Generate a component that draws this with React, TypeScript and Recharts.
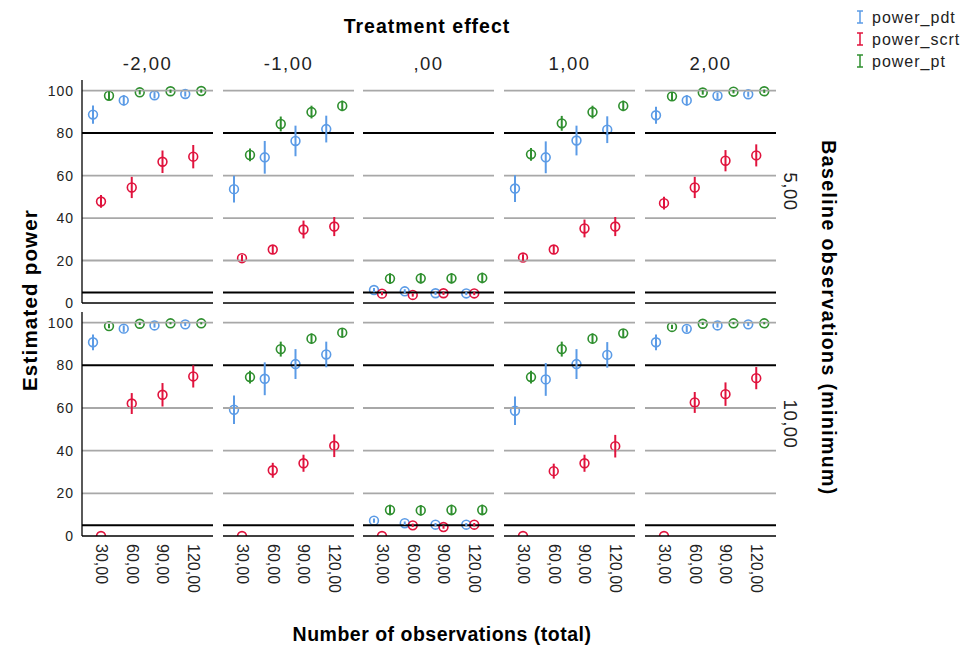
import React from "react";
import { BarChart, Bar, XAxis, YAxis, ReferenceLine, ErrorBar } from "recharts";

const FONT = '"Liberation Sans", Arial, Helvetica, sans-serif';
const BLUE = "#5b9be6";
const RED = "#e0133d";
const GREEN = "#2f8f2f";

// ---- categories & labels ----
const nObs = [30, 60, 90, 120];
const xTickLabels = ["30,00", "60,00", "90,00", "120,00"];
const yTicks = [0, 20, 40, 60, 80, 100];
const gridValues = [20, 40, 60, 100];
const criterionValues = [80, 5];
const treatmentEffects = ["-2,00", "-1,00", ",00", "1,00", "2,00"];
const baselineObs = ["5,00", "10,00"];
const seriesNames = ["power_pdt", "power_scrt", "power_pt"];

// ---- baseline 5 (one inner array per treatment effect, values for n = 30, 60, 90, 120) ----
const pdtBase5 = [
  [88.7, 95.4, 97.8, 98.4],
  [53.6, 68.6, 76.3, 81.9],
  [6.1, 5.5, 4.6, 4.5],
  [53.9, 68.6, 76.5, 81.6],
  [88.4, 95.4, 97.6, 98.3],
];
const pdtErrBase5 = [
  [4.3, 2.5, 1.5, 1.2],
  [6.3, 7.7, 7.2, 6.3],
  [1.0, 1.0, 0.8, 0.8],
  [6.3, 7.5, 7.0, 6.3],
  [4.0, 2.5, 1.5, 1.2],
];
const scrtBase5 = [
  [47.8, 54.4, 66.5, 68.9],
  [21.1, 25.2, 34.6, 36.0],
  [4.4, 3.8, 4.6, 4.5],
  [21.4, 25.2, 35.1, 36.0],
  [47.0, 54.4, 67.0, 69.5],
];
const scrtErrBase5 = [
  [3.0, 5.0, 5.3, 5.5],
  [1.5, 2.0, 4.2, 4.5],
  [0.8, 0.8, 0.8, 0.8],
  [1.5, 2.0, 4.2, 4.5],
  [3.0, 5.0, 5.0, 5.2],
];
const ptBase5 = [
  [97.6, 99.2, 99.7, 99.8],
  [69.7, 84.3, 89.9, 92.8],
  [11.5, 11.6, 11.6, 11.8],
  [70.0, 84.6, 89.9, 92.8],
  [97.3, 99.1, 99.5, 99.7],
];
const ptErrBase5 = [
  [2.0, 1.0, 0.8, 0.8],
  [3.0, 3.5, 3.0, 2.5],
  [2.5, 2.5, 2.5, 2.5],
  [3.0, 3.5, 3.0, 2.5],
  [2.0, 1.0, 0.8, 0.8],
];

// ---- baseline 10 ----
const pdtBase10 = [
  [90.8, 97.2, 98.7, 99.2],
  [59.2, 73.7, 80.6, 85.1],
  [7.2, 6.0, 5.3, 5.3],
  [58.7, 73.4, 80.6, 84.9],
  [90.8, 97.1, 98.7, 99.2],
];
const pdtErrBase10 = [
  [3.7, 1.5, 1.0, 0.8],
  [6.7, 7.7, 7.0, 6.0],
  [1.0, 0.8, 0.8, 0.8],
  [6.7, 7.7, 7.0, 6.0],
  [3.7, 1.5, 1.0, 0.8],
];
const scrtBase10 = [
  [0, 62.1, 66.2, 74.8],
  [0, 30.8, 34.1, 42.3],
  [0, 5.0, 4.2, 5.3],
  [0, 30.4, 34.1, 42.1],
  [0, 62.6, 66.5, 74.0],
];
const scrtErrBase10 = [
  [0, 4.9, 5.5, 5.2],
  [0, 3.5, 4.0, 5.3],
  [0, 0.8, 0.8, 0.8],
  [0, 3.5, 4.0, 5.3],
  [0, 4.9, 5.5, 5.2],
];
const ptBase10 = [
  [98.4, 99.5, 99.7, 99.7],
  [74.5, 87.6, 92.5, 95.3],
  [12.2, 12.0, 12.2, 12.2],
  [74.5, 87.6, 92.5, 95.0],
  [98.0, 99.5, 99.7, 99.7],
];
const ptErrBase10 = [
  [1.0, 0.6, 0.5, 0.5],
  [3.0, 3.5, 2.5, 2.0],
  [2.5, 2.5, 2.5, 2.5],
  [3.0, 3.5, 2.5, 2.0],
  [1.0, 0.6, 0.5, 0.5],
];

// ---- layout ----
const PANEL_LEFTS = [82, 223, 363, 504, 645];
const PANEL_W = 131;
const PANEL_TOPS = [80, 312];
const PANEL_H = [223, 224];

function buildData(row: number, col: number) {
  const pdt = row === 0 ? pdtBase5 : pdtBase10;
  const pdtE = row === 0 ? pdtErrBase5 : pdtErrBase10;
  const scrt = row === 0 ? scrtBase5 : scrtBase10;
  const scrtE = row === 0 ? scrtErrBase5 : scrtErrBase10;
  const pt = row === 0 ? ptBase5 : ptBase10;
  const ptE = row === 0 ? ptErrBase5 : ptErrBase10;
  return nObs.map((n, i) => ({
    n,
    pdt: pdt[col][i],
    pdtErr: pdtE[col][i],
    scrt: scrt[col][i],
    scrtErr: scrtE[col][i],
    pt: pt[col][i],
    ptErr: ptE[col][i],
  }));
}

const circleShape = (color: string) => (props: any) => {
  const { x, y, width } = props;
  if (x == null || y == null) return <g />;
  return (
    <circle cx={x + width / 2} cy={y} r={4.4} fill="none" stroke={color} strokeWidth={1.6} />
  );
};

const XTick = (props: any) => {
  const { x, y, payload } = props;
  const label = xTickLabels[nObs.indexOf(payload.value)];
  const y0 = y + 8;
  return (
    <text
      x={x}
      y={y0}
      transform={`rotate(90 ${x} ${y0})`}
      textAnchor="start"
      dominantBaseline="central"
      fontFamily={FONT}
      fontSize={16}
      fill="#222"
    >
      {label}
    </text>
  );
};

const YTick = (props: any) => {
  const { x, y, payload } = props;
  return (
    <text
      x={x}
      y={y}
      textAnchor="end"
      dominantBaseline="central"
      fontFamily={FONT}
      fontSize={14}
      letterSpacing={1}
      fill="#222"
    >
      {payload.value}
    </text>
  );
};

function Panel({ row, col }: { row: number; col: number }) {
  const isLeft = col === 0;
  const isBottom = row === 1;
  const yW = isLeft ? 60 : 0;
  const xH = isBottom ? 70 : 2;
  const mb = isBottom ? 0 : 8;
  const plotH = PANEL_H[row];
  const data = buildData(row, col);
  return (
    <div style={{ position: "absolute", left: PANEL_LEFTS[col] - yW - 1, top: PANEL_TOPS[row] }}>
      <BarChart
        width={PANEL_W + yW + 2}
        height={plotH + xH + mb}
        data={data}
        margin={{ top: 0, right: 1, left: 1, bottom: mb }}
        barSize={8}
        barGap={0}
      >
        <XAxis
          dataKey="n"
          type="category"
          padding={{ left: 4, right: 4 }}
          height={xH}
          tickLine={false}
          tickSize={0}
          tickMargin={0}
          interval={0}
          axisLine={{ stroke: "#000", strokeWidth: 1.3 }}
          tick={isBottom ? <XTick /> : false}
        />
        <YAxis
          width={yW}
          domain={[0, 105]}
          ticks={yTicks}
          interval={0}
          allowDataOverflow
          tickLine={false}
          tickSize={0}
          tickMargin={8}
          axisLine={{ stroke: "#000", strokeWidth: 1.3 }}
          tick={isLeft ? <YTick /> : false}
        />
        {gridValues.map((v) => (
          <ReferenceLine key={`g${v}`} y={v} stroke="#a8a8a8" strokeWidth={1.8} />
        ))}
        {criterionValues.map((v) => (
          <ReferenceLine key={`c${v}`} y={v} stroke="#000" strokeWidth={2} />
        ))}
        <Bar dataKey="pdt" shape={circleShape(BLUE)} isAnimationActive={false}>
          <ErrorBar dataKey="pdtErr" width={0} stroke={BLUE} strokeWidth={2} direction="y" />
        </Bar>
        <Bar dataKey="scrt" shape={circleShape(RED)} isAnimationActive={false}>
          <ErrorBar dataKey="scrtErr" width={0} stroke={RED} strokeWidth={2} direction="y" />
        </Bar>
        <Bar dataKey="pt" shape={circleShape(GREEN)} isAnimationActive={false}>
          <ErrorBar dataKey="ptErr" width={0} stroke={GREEN} strokeWidth={2} direction="y" />
        </Bar>
      </BarChart>
    </div>
  );
}

const seriesColors = [BLUE, RED, GREEN];

export default function App() {
  return (
    <div
      style={{
        position: "absolute",
        left: 0,
        top: 0,
        width: 971,
        height: 646,
        background: "#fff",
        fontFamily: FONT,
        overflow: "hidden",
      }}
    >
      <svg width={971} height={646} style={{ position: "absolute", left: 0, top: 0 }}>
        <text x={427} y={32.5} textAnchor="middle" fontFamily={FONT} fontSize={19.5} fontWeight="bold" letterSpacing={1} fill="#000">
          Treatment effect
        </text>
        {treatmentEffects.map((t, i) => (
          <text
            key={t}
            x={PANEL_LEFTS[i] + PANEL_W / 2}
            y={70}
            textAnchor="middle"
            fontFamily={FONT}
            fontSize={18.5}
            letterSpacing={1.5}
            fill="#222"
          >
            {t}
          </text>
        ))}
        <text
          transform="translate(37 300) rotate(-90)"
          textAnchor="middle"
          fontFamily={FONT}
          fontSize={20.5}
          fontWeight="bold"
          letterSpacing={1.2}
          fill="#000"
        >
          Estimated power
        </text>
        <text
          transform="translate(822 318) rotate(90)"
          textAnchor="middle"
          fontFamily={FONT}
          fontSize={19.5}
          fontWeight="bold"
          letterSpacing={1.4}
          fill="#000"
        >
          Baseline observations (minimum)
        </text>
        {baselineObs.map((b, i) => (
          <text
            key={b}
            transform={`translate(${784} ${PANEL_TOPS[i] + PANEL_H[i] / 2}) rotate(90)`}
            textAnchor="middle"
            fontFamily={FONT}
            fontSize={18.5}
            letterSpacing={0.5}
            fill="#222"
          >
            {b}
          </text>
        ))}
        <text x={442} y={641} textAnchor="middle" fontFamily={FONT} fontSize={19.5} fontWeight="bold" letterSpacing={0.5} fill="#000">
          Number of observations (total)
        </text>
        {seriesNames.map((s, i) => {
          const cy = 17 + i * 22;
          return (
            <g key={s}>
              <line x1={860} x2={860} y1={cy - 6} y2={cy + 6} stroke={seriesColors[i]} strokeWidth={1.5} />
              <line x1={857} x2={863} y1={cy - 6} y2={cy - 6} stroke={seriesColors[i]} strokeWidth={1.5} />
              <line x1={857} x2={863} y1={cy + 6} y2={cy + 6} stroke={seriesColors[i]} strokeWidth={1.5} />
              <text x={872} y={cy} dominantBaseline="central" fontFamily={FONT} fontSize={16} letterSpacing={1} fill="#222">
                {s}
              </text>
            </g>
          );
        })}
      </svg>
      {[0, 1].map((r) => [0, 1, 2, 3, 4].map((c) => <Panel key={`${r}-${c}`} row={r} col={c} />))}
    </div>
  );
}
